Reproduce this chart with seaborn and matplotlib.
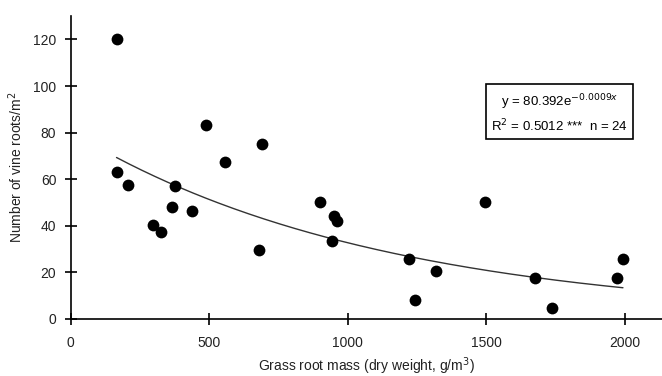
import numpy as np
import pandas as pd
import matplotlib
matplotlib.use("Agg")
import matplotlib.pyplot as plt
import seaborn as sns

# Grass root mass (g/m^3) vs. number of vine roots per m^2
grass_root_mass = [168, 165, 205, 376, 367, 436, 297, 325, 489, 558, 690, 679,
                   900, 952, 961, 943, 1220, 1318, 1244, 1495, 1676, 1739, 1972, 1994]
vine_roots = [120, 63, 57.5, 57, 48, 46.5, 40.3, 37.4, 83.3, 67.5, 75.2, 29.4,
              50.2, 44.3, 42.2, 33.5, 25.5, 20.6, 8.2, 50.2, 17.7, 4.5, 17.7, 25.5]

# Exponential fit y = a * exp(b x)
fit_a = 80.392
fit_b = -0.0009
fit_r2 = 0.5012
n_obs = 24

x_ticks = [0, 500, 1000, 1500, 2000]
y_ticks = [0, 20, 40, 60, 80, 100, 120]

sns.set_theme(style="ticks")
plt.rcParams["font.family"] = ["Liberation Sans", "DejaVu Sans"]
text_color = "#222222"

df = pd.DataFrame({"mass": grass_root_mass, "roots": vine_roots})

fig = plt.figure(figsize=(6.62, 3.76), dpi=100)
ax = fig.add_axes([0.107, 0.152, 0.893, 0.805])

sns.scatterplot(data=df, x="mass", y="roots", ax=ax, color="black",
                s=72, edgecolor="black", linewidth=0, zorder=3)

xs = np.linspace(min(grass_root_mass), max(grass_root_mass), 200)
fit_df = pd.DataFrame({"mass": xs, "roots": fit_a * np.exp(fit_b * xs)})
sns.lineplot(data=fit_df, x="mass", y="roots", ax=ax, color="#333333",
             linewidth=1.0, zorder=2)

ax.set_xlim(0, 2135)
ax.set_ylim(0, 130)
ax.set_xticks(x_ticks)
ax.set_yticks(y_ticks)
ax.tick_params(direction="inout", length=9, width=1.2, colors="black",
               labelcolor=text_color, labelsize=10, pad=6)
ax.tick_params(axis="x", pad=8)
for side in ("top", "right"):
    ax.spines[side].set_visible(False)
for side in ("left", "bottom"):
    ax.spines[side].set_linewidth(1.2)
    ax.spines[side].set_color("black")

ax.set_xlabel("Grass root mass (dry weight, g/m$^3$)", fontsize=10,
              labelpad=4, color=text_color)
ax.set_ylabel("Number of vine roots/m$^2$", fontsize=10, labelpad=6,
              color=text_color)

eq_text = (f"y = {fit_a}e$^{{{fit_b}x}}$\n"
           f"R$^2$ = {fit_r2} ***  n = {n_obs}")
ax.text(1765, 88.3, eq_text, fontsize=9.5, ha="center", va="center",
        linespacing=1.45, color="black",
        bbox=dict(boxstyle="square,pad=0.38", facecolor="white",
                  edgecolor="black", linewidth=1.2))

fig.savefig("out.png", dpi=100)
